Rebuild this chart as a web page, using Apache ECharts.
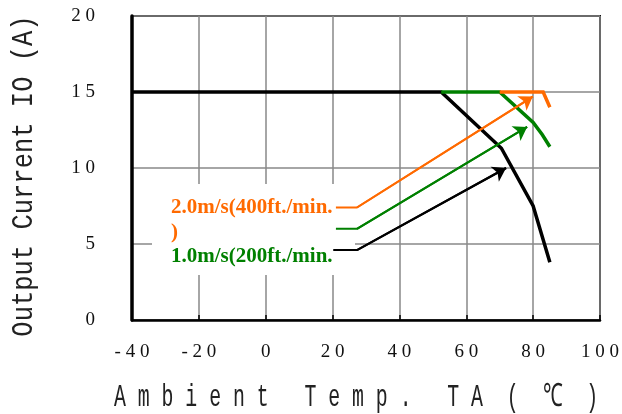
<!DOCTYPE html>
<html><head><meta charset="utf-8">
<script src="https://cdn.jsdelivr.net/npm/echarts@6/dist/echarts.min.js"></script>
<style>html,body{margin:0;padding:0;background:#fff}#c{width:622px;height:414px}</style>
</head><body><div id="c"></div>
<script>
// ---- data ----
const xTicks = [-40, -20, 0, 20, 40, 60, 80, 100];
const yTicks = [0, 5, 10, 15, 20];
const blackT = [-40, 52.5, 70.5, 80, 85];
const blackI = [15, 15, 11.3, 7.5, 3.8];
const greenT = [52.5, 70, 80, 82.7, 85];
const greenI = [15, 15, 13, 12.2, 11.4];
const orangeT = [70, 83, 85];
const orangeI = [15, 15, 14];
const orangeArrowT = [21, 27.3, 79.9];
const orangeArrowI = [7.4, 7.4, 14.7];
const greenArrowT = [21, 27.3, 78.2];
const greenArrowI = [6, 6, 12.7];
const blackArrowT = [20.2, 27.3, 71.9];
const blackArrowI = [4.6, 4.6, 10];
const label2 = '2.0m/s(400ft./min.';
const label2b = ')';
const label1 = '1.0m/s(200ft./min.';
const xTitle = 'A m b i e n t   T e m p .   T A  (  ℃  )';
const yTitle = 'Output Current IO (A)';

const pairs = (xs, ys) => xs.map((x, i) => [x, ys[i]]);
const spaced = v => String(v).split('').join(' ');

function curve(name, xs, ys, color, z) {
  return { name, type: 'line', data: pairs(xs, ys), showSymbol: false, symbol: 'none',
    lineStyle: { color, width: 3.5, join: 'miter' }, z, animation: false, silent: true };
}
function arrow(name, xs, ys, color) {
  const n = xs.length;
  return { name, type: 'line', data: pairs(xs, ys), showSymbol: false, symbol: 'none',
    lineStyle: { color, width: 2 }, z: 5, animation: false, silent: true,
    markLine: { silent: true, animation: false, symbol: ['none', 'arrow'], symbolSize: 13,
      label: { show: false }, lineStyle: { color, width: 2, type: 'solid' },
      data: [[{ coord: [xs[n - 2], ys[n - 2]] }, { coord: [xs[n - 1], ys[n - 1]] }]] } };
}

const chart = echarts.init(document.getElementById('c'));
chart.setOption({
  backgroundColor: '#fff',
  animation: false,
  grid: { left: 132, right: 22, top: 16, bottom: 94, show: true, borderColor: '#111', borderWidth: 2, backgroundColor: 'transparent' },
  xAxis: { type: 'value', min: xTicks[0], max: xTicks[xTicks.length - 1], interval: 20,
    axisLine: { show: true, onZero: false, lineStyle: { color: '#000', width: 2.5 } },
    axisTick: { show: true, inside: true, length: 5, lineStyle: { color: '#000', width: 1.5 } },
    splitLine: { show: true, lineStyle: { color: '#888', width: 1.5 } },
    axisLabel: { margin: 23, formatter: spaced, color: '#111', fontFamily: 'Liberation Serif', fontSize: 19 } },
  yAxis: { type: 'value', min: yTicks[0], max: yTicks[yTicks.length - 1], interval: 5,
    axisLine: { show: true, onZero: false, lineStyle: { color: '#000', width: 3.5 } },
    axisTick: { show: false },
    splitLine: { show: true, lineStyle: { color: '#888', width: 1.5 } },
    axisLabel: { margin: 37, formatter: spaced, color: '#111', fontFamily: 'Liberation Serif', fontSize: 19 } },
  graphic: [
    { type: 'rect', z: 1, shape: { x: 152, y: 184, width: 203, height: 91 }, style: { fill: '#fff' }, silent: true },
    { type: 'text', z: 10, x: 171, y: 208, style: { text: label2, font: 'bold 21px "Liberation Serif"', fill: '#FF6A00', verticalAlign: 'middle' } },
    { type: 'text', z: 10, x: 171, y: 233, style: { text: label2b, font: 'bold 21px "Liberation Serif"', fill: '#FF6A00', verticalAlign: 'middle' } },
    { type: 'text', z: 10, x: 171, y: 257, style: { text: label1, font: 'bold 21px "Liberation Serif"', fill: '#008000', verticalAlign: 'middle' } },
    { type: 'text', z: 10, x: 356, y: 398, scaleX: 0.62, style: { text: xTitle, font: '32px "Liberation Mono"', fill: '#222', align: 'center', verticalAlign: 'middle' } },
    { type: 'text', z: 10, x: 24, y: 176, rotation: Math.PI / 2, scaleX: 0.85, style: { text: yTitle, font: '30px "Liberation Mono"', fill: '#222', align: 'center', verticalAlign: 'middle' } }
  ],
  series: [
    curve('black', blackT, blackI, '#000', 3),
    curve('green', greenT, greenI, '#008000', 4),
    curve('orange', orangeT, orangeI, '#FF6A00', 5),
    arrow('orangeArrow', orangeArrowT, orangeArrowI, '#FF6A00'),
    arrow('greenArrow', greenArrowT, greenArrowI, '#008000'),
    arrow('blackArrow', blackArrowT, blackArrowI, '#000')
  ]
});
</script></body></html>
